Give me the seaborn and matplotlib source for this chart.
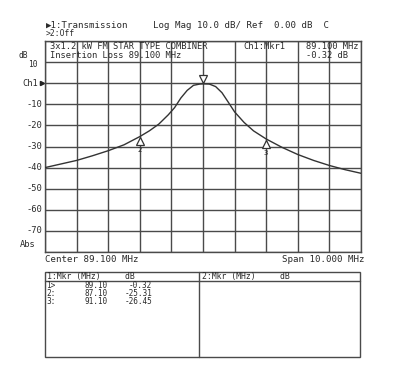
import numpy as np
import pandas as pd
import matplotlib
matplotlib.use("Agg")
import matplotlib.pyplot as plt
import matplotlib.transforms as mtransforms
from matplotlib.patches import Rectangle
import seaborn as sns

# ---- data ----
freq_mhz = [84.1, 84.6, 85.1, 85.6, 86.1, 86.6, 87.1, 87.4, 87.7, 88.0, 88.2, 88.4,
            88.6, 88.8, 89.0, 89.1, 89.3, 89.5, 89.7, 89.9, 90.1, 90.4, 90.7, 91.1,
            91.6, 92.1, 92.6, 93.1, 93.6, 94.1]
trace_db = [-40.0, -38.3, -36.6, -34.4, -32.0, -29.2, -25.3, -22.6, -19.4, -15.0, -11.6, -7.0,
            -3.4, -1.0, -0.4, -0.32, -0.4, -1.6, -4.5, -9.0, -13.6, -18.6, -22.6, -26.45,
            -30.4, -33.8, -36.6, -39.0, -41.0, -42.7]
mkr_ids = ["1", "2", "3"]
mkr_freq = [89.10, 87.10, 91.10]
mkr_db = [-0.32, -25.31, -26.45]
y_ticks = [-10, -20, -30, -40, -50, -60, -70]
y_tick_labels = ["-10", "-20", "-30", "-40", "-50", "-60", "-70"]
start_mhz, stop_mhz = 84.1, 94.1
title_left = "\u25B61:Transmission"
title_right = "Log Mag 10.0 dB/ Ref  0.00 dB  C"
title_line2 = ">2:Off"
header_l1 = "3x1.2 kW FM STAR TYPE COMBINER"
header_l2 = "Insertion Loss 89.100 MHz"
header_mid = "Ch1:Mkr1"
header_r1 = "89.100 MHz"
header_r2 = "-0.32 dB"
center_label = "Center 89.100 MHz"
span_label = "Span 10.000 MHz"
table_left_header = "1:Mkr (MHz)     dB"
table_right_header = "2:Mkr (MHz)     dB"
table_prefix = ["1>", "2:", "3:"]

sns.set_style("white")
plt.rcParams["font.family"] = ["DejaVu Sans Mono", "DejaVu Sans"]

W, H = 399, 374
fig = plt.figure(figsize=(W / 100, H / 100), dpi=100)
fig.patch.set_facecolor("white")

def fx(px):
    return px / W

def fy(py):
    return 1 - py / H

ink = "#2a2a2a"
grid_c = "#4a4a4a"
fs = 6.3

L, R, T, B = 45, 361, 41, 252
ax = fig.add_axes([fx(L), fy(B), fx(R - L), (B - T) / H])
df = pd.DataFrame({"freq": freq_mhz, "db": trace_db})
sns.lineplot(data=df, x="freq", y="db", ax=ax, color="#333333", lw=1.0, zorder=3)
ax.set_xlim(start_mhz, stop_mhz)
ax.set_ylim(-80, 20)
ax.set_xticks(np.arange(start_mhz, stop_mhz + 0.01, 1.0))
ax.set_yticks(np.arange(-80, 21, 10))
ax.grid(True, color=grid_c, lw=1.0)
ax.tick_params(length=0, labelbottom=False, labelleft=False)
ax.set_xlabel("")
ax.set_ylabel("")
for s in ax.spines.values():
    s.set_color(grid_c)
    s.set_linewidth(1.0)

ytr = ax.get_yaxis_transform()
# y labels
for v, lab in zip(y_ticks, y_tick_labels):
    ax.text(-0.01, v, lab, transform=ytr, ha="right", va="center", fontsize=fs, color=ink)
ax.text(-0.022, 0, "Ch1", transform=ytr, ha="right", va="center", fontsize=fs, color=ink)
ax.plot([-0.009], [0], marker=">", ms=3.0, color="#222222", transform=ytr, clip_on=False)
ax.text(-0.024, 9.0, "10", transform=ytr, ha="right", va="center", fontsize=fs - 0.6, color=ink)
ax.text(-0.055, 13.2, "dB", transform=ytr, ha="right", va="center", fontsize=fs - 0.6, color=ink)
ax.text(-0.03, -76.5, "Abs", transform=ytr, ha="right", va="center", fontsize=fs, color=ink)

# markers
tr_dn = ax.transData + mtransforms.ScaledTranslation(0, 4.5 / 100, fig.dpi_scale_trans)
tr_up = ax.transData + mtransforms.ScaledTranslation(0, -4.5 / 100, fig.dpi_scale_trans)
for mid, f, d in zip(mkr_ids, mkr_freq, mkr_db):
    if mid == "1":
        ax.plot([f], [d], marker="v", ms=6, mfc="white", mec="#333333", mew=0.9,
                transform=tr_dn, zorder=4)
    else:
        ax.plot([f], [d], marker="^", ms=6, mfc="white", mec="#333333", mew=0.9,
                transform=tr_up, zorder=4)
        ax.text(f, d - 6.5, mid, ha="center", va="center", fontsize=fs - 1, color=ink, zorder=4)

# header inside plot
ax.text((50 - L) / (R - L), 17.5, header_l1, transform=ytr, ha="left", va="center", fontsize=fs, color=ink)
ax.text((50 - L) / (R - L), 13.0, header_l2, transform=ytr, ha="left", va="center", fontsize=fs, color=ink)
ax.text((243 - L) / (R - L), 17.5, header_mid, transform=ytr, ha="left", va="center", fontsize=fs, color=ink)
ax.text((306 - L) / (R - L), 17.5, header_r1, transform=ytr, ha="left", va="center", fontsize=fs, color=ink)
ax.text((306 - L) / (R - L), 13.0, header_r2, transform=ytr, ha="left", va="center", fontsize=fs, color=ink)

# title lines
fig.text(fx(46), fy(25), title_left, ha="left", va="center", fontsize=fs + 0.3, color=ink)
fig.text(fx(153), fy(25), title_right, ha="left", va="center", fontsize=fs + 0.3, color=ink)
fig.text(fx(46), fy(34), title_line2, ha="left", va="center", fontsize=fs - 0.5, color=ink)

# bottom labels
fig.text(fx(45), fy(259), center_label, ha="left", va="center", fontsize=fs + 0.3, color=ink)
fig.text(fx(364), fy(259), span_label, ha="right", va="center", fontsize=fs + 0.3, color=ink)

# marker table
tax = fig.add_axes([0, 0, 1, 1])
tax.set_xlim(0, W)
tax.set_ylim(H, 0)
tax.axis("off")
tax.patch.set_alpha(0)
tax.add_patch(Rectangle((45, 272), 315, 85, fill=False, ec=grid_c, lw=1.0))
tax.plot([199, 199], [272, 357], color=grid_c, lw=1.0)
tax.plot([45, 360], [281, 281], color=grid_c, lw=1.0)
tfs = 5.6
tax.text(47, 276.5, table_left_header, ha="left", va="center", fontsize=tfs + 0.3, color=ink)
tax.text(202, 276.5, table_right_header, ha="left", va="center", fontsize=tfs + 0.3, color=ink)
for i, (p, f, d) in enumerate(zip(table_prefix, mkr_freq, mkr_db)):
    yy = 286.0 + i * 7.6
    tax.text(46, yy, p, ha="left", va="center", fontsize=tfs, color=ink)
    tax.text(108, yy, f"{f:.2f}", ha="right", va="center", fontsize=tfs, color=ink)
    tax.text(152, yy, f"{d:.2f}", ha="right", va="center", fontsize=tfs, color=ink)

fig.savefig("out.png", dpi=100, facecolor="white")
